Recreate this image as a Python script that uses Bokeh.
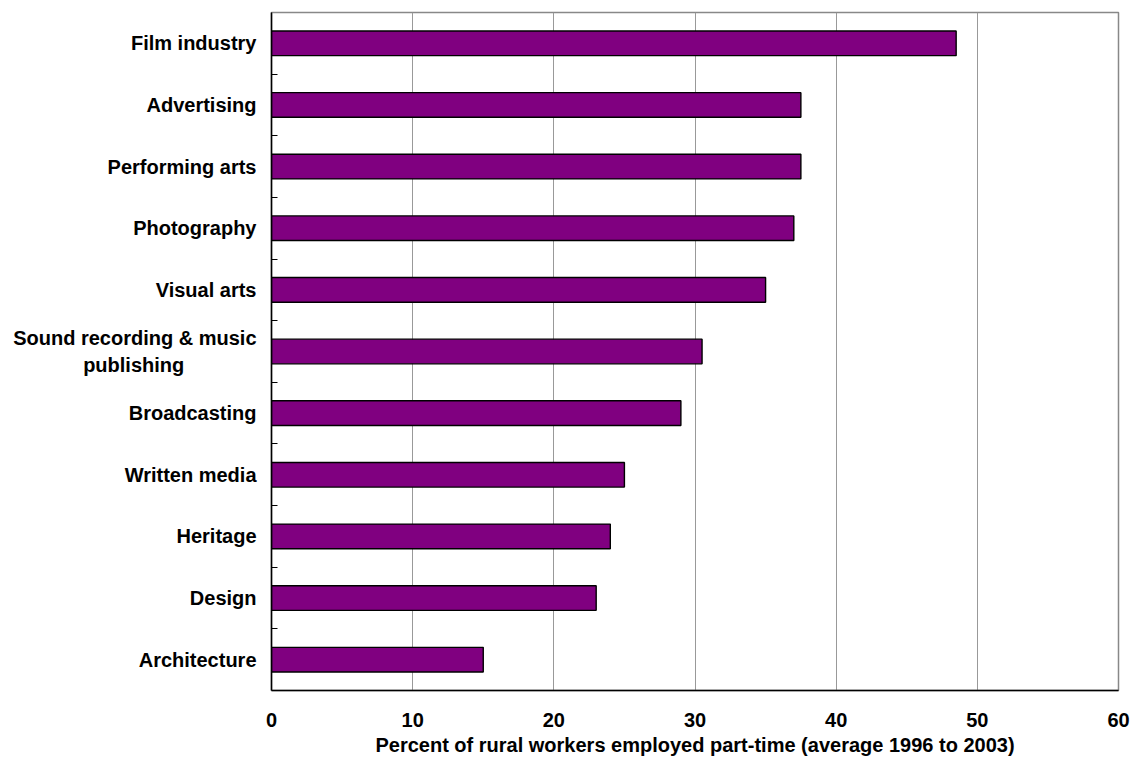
import numpy as np
from bokeh.plotting import figure
from bokeh.models import Range1d, FixedTicker, ColumnDataSource
from bokeh.embed import file_html
from bokeh.resources import INLINE

# Data (top to bottom in the chart)
categories = ["Film industry", "Advertising", "Performing arts", "Photography",
              "Visual arts", "Sound recording & music\npublishing" + "\u00a0" * 13,
              "Broadcasting", "Written media", "Heritage", "Design", "Architecture"]
values = [48.5, 37.5, 37.5, 37.0, 35.0, 30.5, 29.0, 25.0, 24.0, 23.0, 15.0]
x_ticks = [0, 10, 20, 30, 40, 50, 60]
x_title = "Percent of rural workers employed part-time (average 1996 to 2003)"

n = len(categories)
# bottom-to-top numeric positions
ypos = [n - 1 - i + 0.5 for i in range(n)]
boundaries = [float(k) for k in range(1, n)]

src = ColumnDataSource(dict(y=ypos, right=values))

FONT = "Liberation Sans"

p = figure(width=1132, height=763, output_backend="svg", toolbar_location=None,
           x_range=Range1d(0, 60), y_range=Range1d(0, n),
           min_border_left=271, min_border_top=12, min_border_right=14,
           min_border_bottom=73)

p.hbar(y="y", right="right", left=0, height=0.4, source=src,
       fill_color="#800080", line_color="black", line_width=1.4)

# x axis
p.xaxis.ticker = FixedTicker(ticks=x_ticks)
p.xaxis.major_tick_out = 0
p.xaxis.major_tick_in = 0
p.xaxis.minor_tick_out = 0
p.xaxis.minor_tick_in = 0
p.xaxis.axis_line_color = "black"
p.xaxis.axis_line_width = 1.5
p.xaxis.major_label_text_font = FONT
p.xaxis.major_label_text_font_style = "bold"
p.xaxis.major_label_text_font_size = "20px"
p.xaxis.major_label_text_color = "black"
p.xaxis.major_label_standoff = 22
p.xaxis.axis_label = x_title
p.xaxis.axis_label_text_font = FONT
p.xaxis.axis_label_text_font_style = "bold"
p.xaxis.axis_label_text_font_size = "20px"
p.xaxis.axis_label_text_color = "black"
p.xaxis.axis_label_standoff = 4

# y axis
p.yaxis.ticker = FixedTicker(ticks=ypos, minor_ticks=boundaries)
p.yaxis.major_label_overrides = {y: c for y, c in zip(ypos, categories)}
p.yaxis.major_tick_out = 0
p.yaxis.major_tick_in = 0
p.yaxis.minor_tick_out = 0
p.yaxis.minor_tick_in = 6
p.yaxis.minor_tick_line_color = "black"
p.yaxis.axis_line_color = "black"
p.yaxis.axis_line_width = 1.5
p.yaxis.major_label_text_font = FONT
p.yaxis.major_label_text_font_style = "bold"
p.yaxis.major_label_text_font_size = "20px"
p.yaxis.major_label_text_color = "black"
p.yaxis.major_label_standoff = 15

# grid
p.xgrid.ticker = FixedTicker(ticks=x_ticks)
p.xgrid.grid_line_color = "#999999"
p.xgrid.grid_line_width = 1
p.ygrid.grid_line_color = None

p.outline_line_color = "#888888"
p.outline_line_width = 1.5
p.background_fill_color = "white"
p.border_fill_color = "white"

open("out.html", "w").write(file_html(p, INLINE))
